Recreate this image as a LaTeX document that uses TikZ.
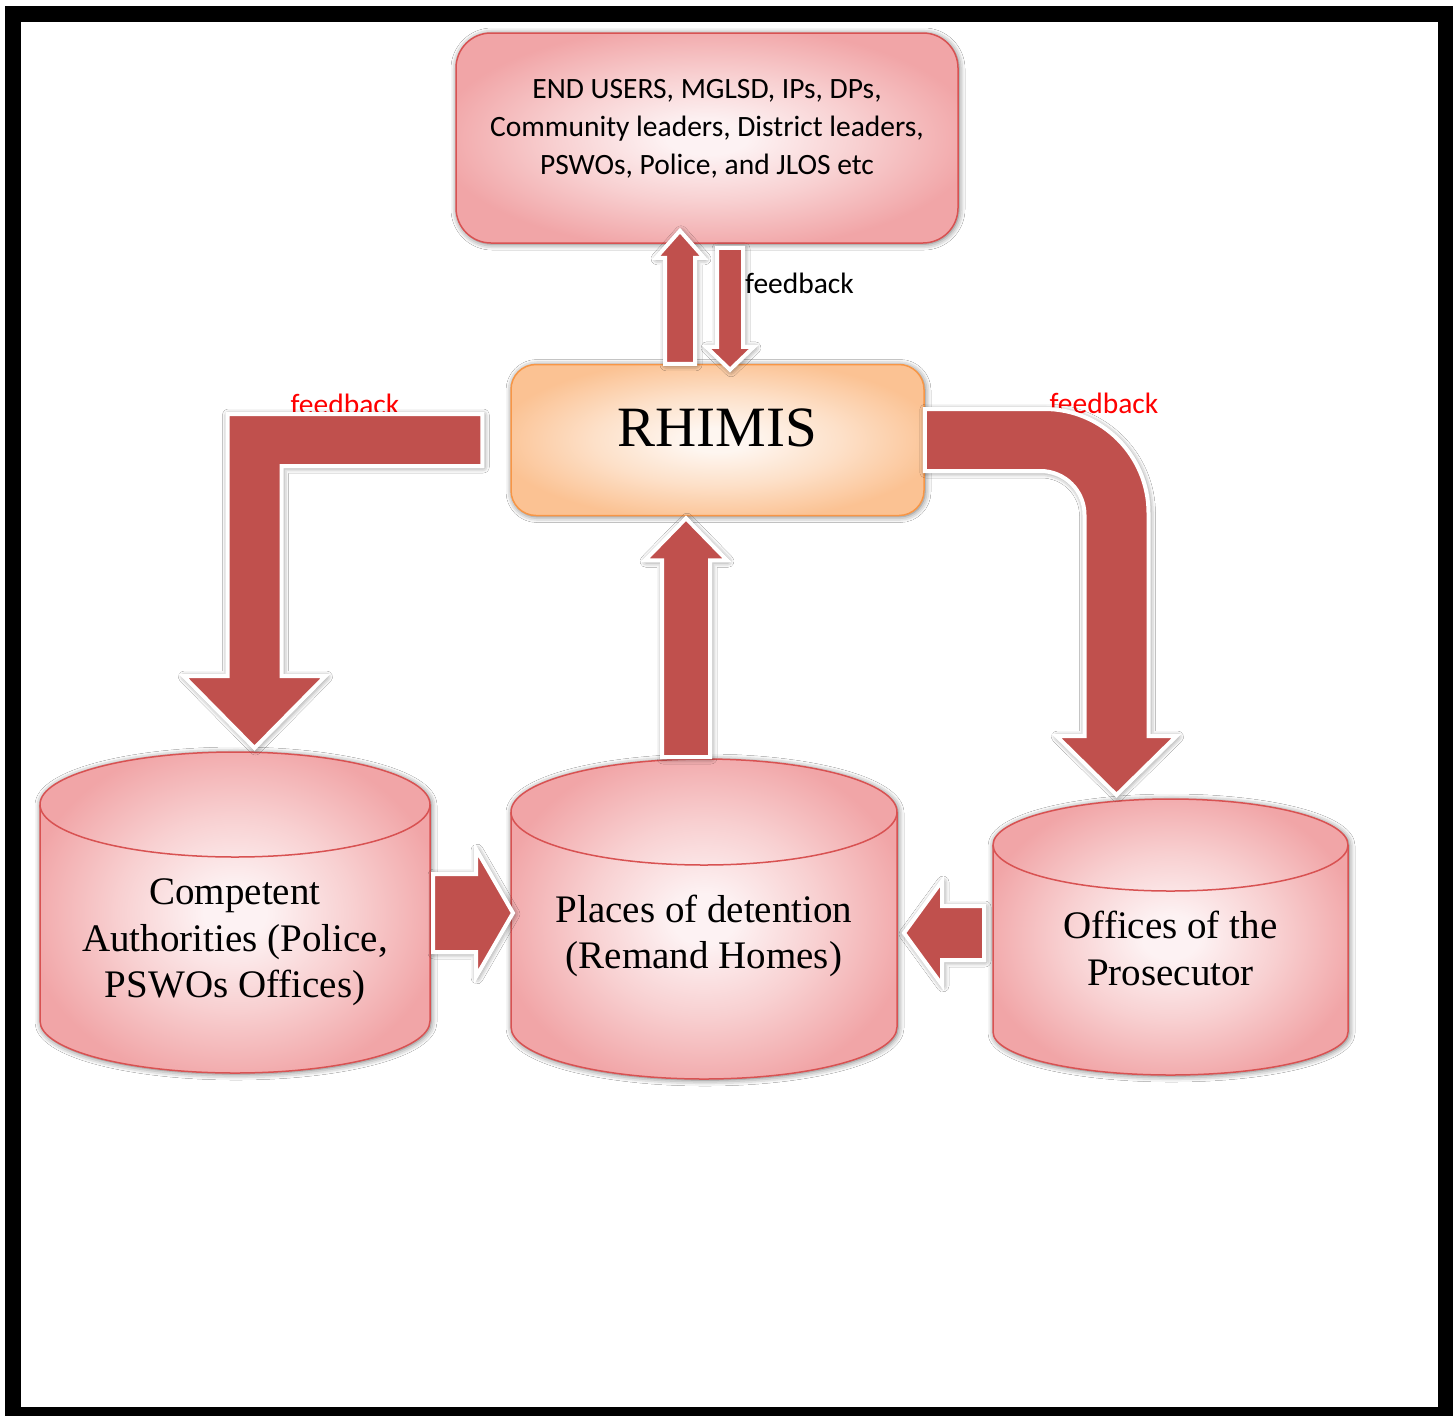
\documentclass[tikz,border=0pt]{standalone}
\usepackage{fontspec}
\setmainfont{Liberation Serif}
\newfontfamily\carlito{Carlito}
\usetikzlibrary{calc,shadows.blur}

\definecolor{arrowred}{RGB}{192,80,77}
\definecolor{pinkedge}{RGB}{241,165,167}
\definecolor{pinkhalf}{RGB}{248,208,209}
\definecolor{pinkmid}{RGB}{253,242,243}
\definecolor{pinkline}{RGB}{216,82,82}
\definecolor{orangeedge}{RGB}{251,194,147}
\definecolor{orangehalf}{RGB}{253,224,200}
\definecolor{orangemid}{RGB}{254,246,240}
\definecolor{orangeline}{RGB}{247,150,70}
\definecolor{fbred}{RGB}{255,0,0}

\pgfdeclareradialshading{pinkglow}{\pgfpoint{0bp}{0bp}}{color(0bp)=(pinkmid); color(4bp)=(pinkmid); color(15bp)=(pinkhalf); color(27bp)=(pinkedge); color(50bp)=(pinkedge)}
\pgfdeclareradialshading{orangeglow}{\pgfpoint{0bp}{0bp}}{color(0bp)=(orangemid); color(4bp)=(orangemid); color(15bp)=(orangehalf); color(27bp)=(orangeedge); color(50bp)=(orangeedge)}

\begin{document}
\begin{tikzpicture}[x=1pt,y=1pt]

\newcommand{\drum}[7]{% name, cx, top cap y, bottom cap y, rx, top ry, bottom ry
  \path[drumfill] (#2-#5,#3) -- (#2-#5,#4) arc[start angle=180,end angle=360,x radius=#5,y radius=#7]
    -- (#2+#5,#3) arc[start angle=0,end angle=180,x radius=#5,y radius=#6] -- cycle;
  \draw[drumline] (#2-#5,#3) arc[start angle=180,end angle=360,x radius=#5,y radius=#6];
  \coordinate (#1-top) at (#2,#3+#6);
  \coordinate (#1-w) at (#2-#5,#3);
  \coordinate (#1-e) at (#2+#5,#3);
}
\newcommand{\blockarrow}[5]{% start, tip, half shaft, half head, head length
  \path[bigarrow] ($(#1)!#3!90:(#2)$) -- ($(#2)!#5!(#1)!#3!90:(#2)$) -- ($(#2)!#5!(#1)!#4!90:(#2)$)
    -- (#2) -- ($(#2)!#5!(#1)!#4!-90:(#2)$) -- ($(#2)!#5!(#1)!#3!-90:(#2)$) -- ($(#1)!#3!-90:(#2)$) -- cycle;
}

\tikzstyle{glow}=[blur shadow={shadow xshift=1pt,shadow yshift=-1pt,shadow blur radius=6pt,shadow opacity=60}]
\tikzstyle{bigarrow}=[fill=arrowred,draw=white,line width=4pt,glow]
\tikzstyle{drumfill}=[shading=pinkglow,draw=pinkline,line width=1.5pt,glow]
\tikzstyle{drumline}=[draw=pinkline,line width=1.5pt]
\tikzstyle{drumtext}=[align=center,inner sep=0pt,font=\fontsize{39}{46.5}\selectfont]
\tikzstyle{fbtext}=[inner sep=0pt,font=\carlito\fontsize{29.5}{32}\selectfont]

% frame
\useasboundingbox (0,0) rectangle (1455,-1416);
\fill[white] (0,0) rectangle (1455,-1416);
\fill[black] (5,-6) rectangle (1453,-1416);
\fill[white] (21,-22) rectangle (1438,-1407);

\node[rectangle,rounded corners=35pt,minimum width=502pt,minimum height=210pt,
  shading=pinkglow,draw=pinkline,line width=1.5pt,glow,
  align=center,text depth=23pt,font=\carlito\fontsize{29.5}{38}\selectfont] (users) at (707,-138)
  {END USERS, MGLSD, IPs, DPs,\\Community leaders, District leaders,\\PSWOs, Police, and JLOS etc};

\node[rectangle,rounded corners=25pt,minimum width=413pt,minimum height=151pt,
  shading=orangeglow,draw=orangeline,line width=1.5pt,glow,
  text depth=24pt,font=\fontsize{57}{60}\selectfont] (rhimis) at (717.5,-440) {RHIMIS};

\drum{comp}{235}{-804.5}{-1021}{195}{52.5}{52}
\drum{places}{704}{-812}{-1027}{193}{53}{52}
\drum{prosec}{1170.5}{-845}{-1032}{177.5}{46}{43}

\node[drumtext] (comp) at (235,-942.5) {Competent\\Authorities (Police,\\PSWOs Offices)};
\node[drumtext] (places) at (704,-936) {Places of detention\\(Remand Homes)};
\node[drumtext] (prosec) at (1170.5,-948.5) {Offices of the\\Prosecutor};

% labels first, the arrows cover their lower edge
\node[fbtext,text=fbred] (fbLtxt) at (345,-404) {feedback};
\node[fbtext,text=fbred] (fbRtxt) at (1104,-403) {feedback};
\node[fbtext,anchor=west] (fbDtxt) at (745,-283) {feedback};

\coordinate (fbU) at ($(rhimis.north)+(-37.5,0)$);
\coordinate (fbUt) at ($(fbU |- users.south)+(0,13)$);
\coordinate (fbD) at ($(users.south)+(23,-4)$);
\coordinate (fbDt) at ($(fbD |- rhimis.north)+(0,-6)$);
\coordinate (midS) at ($(places-top)+(-18,2)$);
\coordinate (midT) at ($(midS |- rhimis.south)+(0,-2)$);
\coordinate (cpS) at ($(comp-e)+(3,-108.5)$);
\coordinate (cpT) at ($(cpS -| places-w)+(2,0)$);
\coordinate (ppS) at ($(prosec-w)+(-9,-88)$);
\coordinate (ppT) at ($(ppS -| places-e)+(7,0)$);
\coordinate (fbLs) at ($(rhimis.west)+(-28,0)$);
\coordinate (fbLt) at ($(comp-top)+(19.5,4)$);
\coordinate (fbRs) at (rhimis.east);
\coordinate (fbRt) at ($(prosec-top)+(-54,4)$);

\blockarrow{fbU}{fbUt}{15pt}{24pt}{27pt}
\blockarrow{fbD}{fbDt}{13pt}{24pt}{23pt}
\blockarrow{midS}{midT}{24pt}{41pt}{42pt}
\blockarrow{cpS}{cpT}{39pt}{64pt}{37pt}
\blockarrow{ppS}{ppT}{27pt}{52pt}{38pt}

\path[bigarrow] let \p1=(fbLs), \p2=(fbLt) in
  (\x1,\y1+26pt) -- (\x2-27pt,\y1+26pt) -- (\x2-27pt,\y2+72pt) -- (\x2-71pt,\y2+72pt) -- (\x2,\y2)
  -- (\x2+71pt,\y2+72pt) -- (\x2+27pt,\y2+72pt) -- (\x2+27pt,\y1-26pt) -- (\x1,\y1-26pt) -- cycle;

\path[bigarrow] let \p1=(fbRs), \p2=(fbRt) in
  (\x1,\y1+31pt) -- (\x2-72pt,\y1+31pt) arc[start angle=90,end angle=0,radius=104pt]
  -- (\x2+32pt,\y2+59pt) -- (\x2+60pt,\y2+59pt) -- (\x2,\y2) -- (\x2-60pt,\y2+59pt) -- (\x2-32pt,\y2+59pt)
  -- (\x2-32pt,\y1-75pt) arc[start angle=0,end angle=90,radius=44pt] -- (\x1,\y1-31pt) -- cycle;

\end{tikzpicture}
\end{document}
